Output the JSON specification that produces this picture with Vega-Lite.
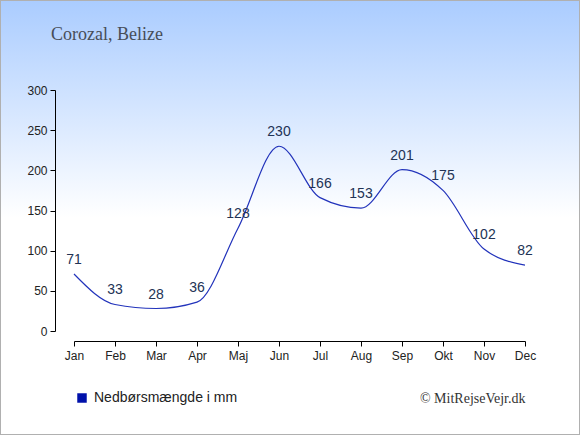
{
  "$schema": "https://vega.github.io/schema/vega-lite/v6.json",
  "description": "Monthly precipitation, Corozal, Belize",
  "width": 580,
  "height": 435,
  "autosize": "none",
  "padding": 0,
  "background": "white",
  "title": {
    "text": "Corozal, Belize",
    "anchor": "start",
    "dx": 51,
    "offset": -58,
    "baseline": "alphabetic",
    "font": "Liberation Serif",
    "fontSize": 18,
    "fontWeight": "normal",
    "color": "#474d58"
  },
  "data": {
    "values": [
      {"month": "Jan", "mm": 71, "series": "Nedbørsmængde i mm"},
      {"month": "Feb", "mm": 33, "series": "Nedbørsmængde i mm"},
      {"month": "Mar", "mm": 28, "series": "Nedbørsmængde i mm"},
      {"month": "Apr", "mm": 36, "series": "Nedbørsmængde i mm"},
      {"month": "Maj", "mm": 128, "series": "Nedbørsmængde i mm"},
      {"month": "Jun", "mm": 230, "series": "Nedbørsmængde i mm"},
      {"month": "Jul", "mm": 166, "series": "Nedbørsmængde i mm"},
      {"month": "Aug", "mm": 153, "series": "Nedbørsmængde i mm"},
      {"month": "Sep", "mm": 201, "series": "Nedbørsmængde i mm"},
      {"month": "Okt", "mm": 175, "series": "Nedbørsmængde i mm"},
      {"month": "Nov", "mm": 102, "series": "Nedbørsmængde i mm"},
      {"month": "Dec", "mm": 82, "series": "Nedbørsmængde i mm"}
    ]
  },
  "encoding": {
    "x": {
      "field": "month",
      "type": "ordinal",
      "sort": null,
      "scale": {"type": "point", "range": [74, 525], "padding": 0},
      "axis": {
        "offset": -94,
        "labelAngle": 0,
        "labelPadding": 4,
        "tickSize": 5,
        "grid": false,
        "title": "© MitRejseVejr.dk",
        "titleX": 525,
        "titleY": 61,
        "titleAnchor": null,
        "titleAlign": "right",
        "titleBaseline": "alphabetic",
        "titleFont": "Liberation Serif",
        "titleFontSize": 14,
        "titleFontWeight": "normal",
        "titleColor": "#333333"
      }
    },
    "y": {
      "field": "mm",
      "type": "quantitative",
      "scale": {"domain": [0, 300], "range": [331, 90], "nice": false},
      "axis": {
        "offset": -55,
        "values": [0, 50, 100, 150, 200, 250, 300],
        "tickSize": 5,
        "labelPadding": 3,
        "grid": false,
        "title": null
      }
    }
  },
  "layer": [
    {
      "mark": {"type": "line", "interpolate": "monotone", "strokeWidth": 1.2},
      "encoding": {
        "color": {
          "field": "series",
          "type": "nominal",
          "scale": {"range": ["#2233bb"]},
          "legend": {
            "title": null,
            "orient": "none",
            "legendX": 75,
            "legendY": 391,
            "symbolType": "square",
            "symbolSize": 90,
            "symbolFillColor": "#0011aa",
            "symbolStrokeColor": "#0011aa",
            "symbolStrokeWidth": 0,
            "labelFont": "Liberation Sans",
            "labelFontSize": 14,
            "labelColor": "#222222",
            "labelOffset": 5
          }
        }
      }
    },
    {
      "mark": {
        "type": "text",
        "dy": -14,
        "font": "Liberation Sans",
        "fontSize": 14,
        "color": "#223355"
      },
      "encoding": {"text": {"field": "mm", "type": "quantitative"}}
    }
  ],
  "config": {
    "view": {
      "fill": {
        "gradient": "linear",
        "x1": 0, "y1": 0, "x2": 0, "y2": 1,
        "stops": [
          {"offset": 0, "color": "#aaccff"},
          {"offset": 0.5, "color": "#ffffff"},
          {"offset": 1, "color": "#ffffff"}
        ]
      },
      "stroke": "#b0b0b0",
      "strokeWidth": 2
    },
    "axis": {
      "domainColor": "#000000",
      "tickColor": "#000000",
      "labelFont": "Liberation Sans",
      "labelFontSize": 12,
      "labelColor": "#222222"
    }
  }
}
